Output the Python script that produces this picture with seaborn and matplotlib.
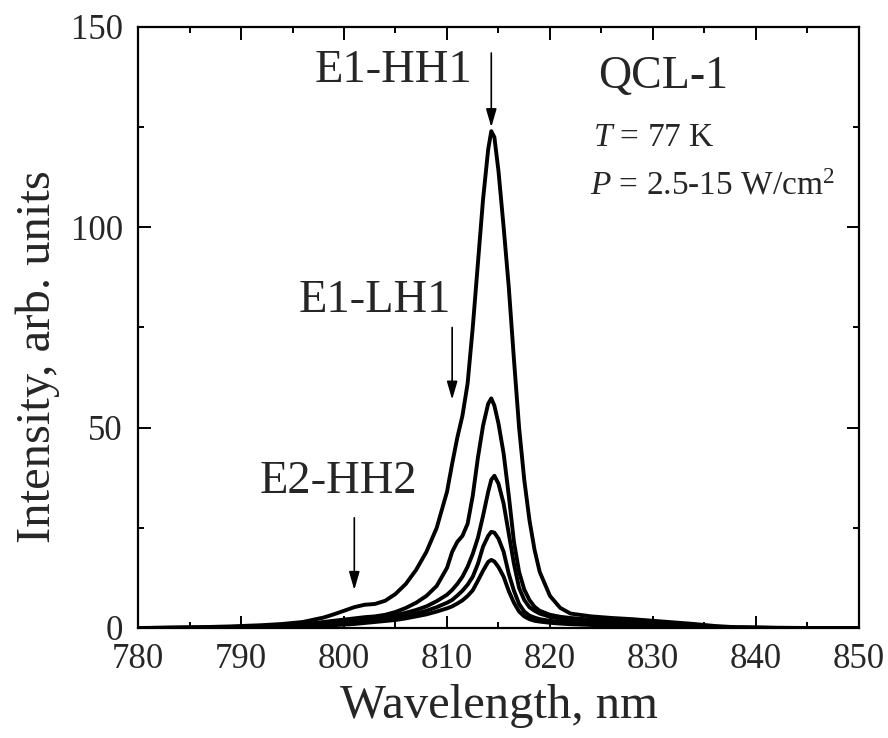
import matplotlib
matplotlib.use("Agg")
import matplotlib.pyplot as plt
import pandas as pd
import seaborn as sns
from matplotlib.ticker import MultipleLocator

# wavelength grid (nm) shared by all five spectra
wavelength = [780, 783, 786, 789, 792, 794, 796, 798, 799, 800,
              801, 802, 803, 804, 805, 806, 807, 808, 809, 810,
              810.5, 811, 811.5, 812, 812.5, 813, 813.5, 814, 814.3, 814.6,
              815, 815.5, 816, 816.5, 817, 817.5, 818, 818.5, 819, 820,
              821, 822, 824, 826, 828, 830, 832, 834, 836, 838,
              842, 846, 850]

# PL intensity at increasing pump power (arb. units)
p1 = [0, 0.1, 0.2, 0.4, 0.7, 1.0, 1.5, 2.6, 3.4, 4.3,
      5.2, 5.8, 6.0, 6.8, 8.5, 11, 14.5, 19, 25, 34,
      41, 47.5, 53, 61, 75, 91, 107, 119.5, 124, 122.5,
      114, 100, 85, 67, 50, 37, 27, 19.5, 14, 8,
      5, 3.6, 2.9, 2.5, 2.2, 1.8, 1.4, 1.0, 0.5, 0.2,
      0.05, 0, 0]
p2 = [0, 0.05, 0.1, 0.2, 0.4, 0.6, 0.9, 1.5, 1.8, 2.1,
      2.4, 2.7, 2.9, 3.3, 4.0, 5.0, 6.3, 8.0, 10.5, 15,
      19, 21.5, 23, 26, 33, 42.5, 50.5, 56, 57.3, 55.5,
      51, 43.5, 33, 21.5, 14, 9.6, 7, 5.3, 4.3, 3.3,
      2.8, 2.5, 2.1, 1.8, 1.5, 1.2, 0.9, 0.6, 0.3, 0.1,
      0.03, 0, 0]
p3 = [0, 0.03, 0.08, 0.15, 0.3, 0.45, 0.7, 1.1, 1.3, 1.5,
      1.8, 2.1, 2.4, 2.8, 3.2, 3.8, 4.5, 5.4, 6.7, 8.3,
      9.5, 11, 12.8, 15.3, 18.5, 22.5, 28, 34, 37, 38,
      36, 31, 23.5, 16, 10, 7, 5.2, 4.3, 3.6, 2.8,
      2.3, 2.0, 1.6, 1.3, 1.1, 0.8, 0.6, 0.4, 0.2, 0.1,
      0.02, 0, 0]
p4 = [0, 0.02, 0.05, 0.1, 0.2, 0.3, 0.5, 0.75, 0.9, 1.1,
      1.3, 1.6, 1.9, 2.2, 2.5, 3.0, 3.6, 4.3, 5.2, 6.3,
      7.0, 8.1, 9.3, 10.8, 12.8, 16, 20.3, 23, 24, 23.8,
      22.3, 19, 13.5, 9.3, 6, 4.1, 3.1, 2.6, 2.2, 1.8,
      1.5, 1.3, 1.0, 0.8, 0.65, 0.5, 0.35, 0.25, 0.12, 0.05,
      0.01, 0, 0]
p5 = [0, 0.02, 0.04, 0.08, 0.15, 0.22, 0.35, 0.55, 0.7, 0.85,
      1.0, 1.25, 1.5, 1.75, 2.0, 2.4, 2.9, 3.4, 4.1, 4.9,
      5.4, 6.1, 6.9, 8.0, 9.4, 11.8, 14.3, 16.5, 17, 16.6,
      15.2, 12.8, 9.2, 6.3, 4.1, 2.9, 2.2, 1.8, 1.6, 1.3,
      1.1, 0.95, 0.75, 0.6, 0.5, 0.35, 0.25, 0.15, 0.08, 0.03,
      0.01, 0, 0]
spectra = {"p1": p1, "p2": p2, "p3": p3, "p4": p4, "p5": p5}

x_ticks = [780, 790, 800, 810, 820, 830, 840, 850]
y_ticks = [0, 50, 100, 150]


def main() -> None:
    df = pd.concat(
        [pd.DataFrame({"wavelength": wavelength, "intensity": v, "curve": k})
         for k, v in spectra.items()],
        ignore_index=True,
    )

    sns.set_theme(style="ticks")
    plt.rcParams["font.family"] = ["Liberation Serif", "DejaVu Serif"]
    plt.rcParams["mathtext.fontset"] = "custom"
    plt.rcParams["mathtext.rm"] = "Liberation Serif"
    plt.rcParams["mathtext.it"] = "Liberation Serif:italic"

    fig = plt.figure(figsize=(8.88, 7.38), dpi=100)
    ax = fig.add_axes([138 / 888, 1 - 628 / 738, 721 / 888, 601 / 738])

    sns.lineplot(data=df, x="wavelength", y="intensity", hue="curve",
                 palette=["black"] * 5, linewidth=2.8, legend=False,
                 sort=False, ax=ax)

    ax.set_xlim(780, 850)
    ax.set_ylim(0, 150)
    ax.set_xticks(x_ticks)
    ax.set_yticks(y_ticks)
    ax.xaxis.set_minor_locator(MultipleLocator(5))
    ax.yaxis.set_minor_locator(MultipleLocator(25))
    ax.tick_params(which="both", direction="in", top=True, right=True,
                   width=1.4, color="black")
    ax.tick_params(which="major", length=9, labelsize=25)
    ax.tick_params(axis="x", which="major", pad=11)
    ax.tick_params(axis="y", which="major", pad=11)
    ax.tick_params(which="minor", length=4.5)
    for s in ax.spines.values():
        s.set_linewidth(1.6)
        s.set_color("black")

    ax.set_xlabel("Wavelength, nm", fontsize=35)
    ax.set_ylabel("Intensity, arb. units", fontsize=35)
    ax.xaxis.set_label_coords(0.5, -0.093)
    ax.yaxis.set_label_coords(-0.108, 0.452)

    arrow = dict(arrowstyle="-|>,head_length=0.55,head_width=0.16",
                 color="black", lw=1.2, shrinkA=0, shrinkB=0,
                 mutation_scale=20)
    ax.text(804.8, 136.3, "E1-HH1", fontsize=33.5, ha="center", va="baseline")
    ax.annotate("", xy=(814.3, 125), xytext=(814.3, 143.5), arrowprops=arrow)
    ax.text(803.0, 78.9, "E1-LH1", fontsize=33.5, ha="center", va="baseline")
    ax.annotate("", xy=(810.5, 57), xytext=(810.5, 75), arrowprops=arrow)
    ax.text(799.5, 33.7, "E2-HH2", fontsize=33.5, ha="center", va="baseline")
    ax.annotate("", xy=(801.0, 9.5), xytext=(801.0, 27.5), arrowprops=arrow)

    ax.text(824.7, 134.8, "QCL-1", fontsize=33, va="baseline")
    ax.text(824.2, 120.3, "$T$ = 77 K", fontsize=24, va="baseline")
    ax.text(823.9, 108.1, "$P$ = 2.5-15 W/cm$^2$", fontsize=24, va="baseline")

    fig.savefig("out.png", dpi=100)
    plt.close(fig)


if __name__ == "__main__":
    main()
